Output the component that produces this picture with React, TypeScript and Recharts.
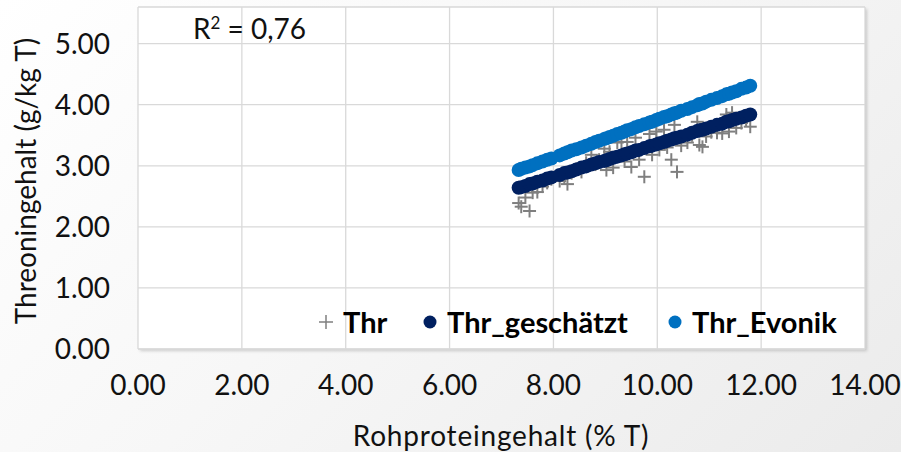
import { ScatterChart, Scatter, XAxis, YAxis, CartesianGrid } from 'recharts'

// Rohproteingehalt (% T) per sample
const protein = [
  7.33, 7.38, 7.46, 7.54, 7.6, 7.69, 7.79, 7.88, 7.96, 8.12,
  8.21, 8.27, 8.35, 8.44, 8.54, 8.63, 8.73, 8.81, 8.88, 8.98,
  9.02, 9.08, 9.15, 9.23, 9.31, 9.37, 9.42, 9.5, 9.58, 9.65,
  9.75, 9.85, 9.9, 9.98, 10.04, 10.13, 10.19, 10.27, 10.33, 10.38,
  10.46, 10.58, 10.67, 10.77, 10.81, 10.87, 10.94, 11.04, 11.15, 11.25,
  11.33, 11.38, 11.44, 11.52, 11.62, 11.71, 11.79,
]

// Threonin gemessen (g/kg T)
const thr = [
  2.39, 2.33, 2.48, 2.26, 2.56, 2.57, 2.66, 2.72, 2.78, 2.75,
  2.8, 2.7, 2.88, 2.95, 2.9, 3.05, 3.18, 3.02, 3.1, 3.28,
  2.93, 3.23, 2.97, 3.38, 3.39, 3.07, 3.39, 2.98, 3.46, 3.1,
  2.82, 3.52, 3.18, 3.56, 3.26, 3.59, 3.3, 3.1, 3.67, 2.9,
  3.33, 3.38, 3.5, 3.72, 3.34, 3.31, 3.48, 3.55, 3.54, 3.53,
  3.84, 3.56, 3.87, 3.62, 3.7, 3.75, 3.64,
]

const thrGeschaetzt = [
  2.64, 2.65, 2.67, 2.7, 2.71, 2.74, 2.76, 2.79, 2.81, 2.85,
  2.88, 2.89, 2.91, 2.94, 2.97, 2.99, 3.02, 3.04, 3.06, 3.08,
  3.09, 3.11, 3.13, 3.15, 3.17, 3.19, 3.2, 3.22, 3.25, 3.26,
  3.29, 3.32, 3.33, 3.35, 3.37, 3.39, 3.41, 3.43, 3.45, 3.46,
  3.48, 3.51, 3.54, 3.57, 3.58, 3.59, 3.61, 3.64, 3.67, 3.69,
  3.72, 3.73, 3.75, 3.77, 3.79, 3.82, 3.84,
]

const thrEvonik = [
  2.93, 2.95, 2.97, 2.99, 3.01, 3.04, 3.07, 3.1, 3.12, 3.17,
  3.2, 3.22, 3.25, 3.27, 3.3, 3.33, 3.36, 3.39, 3.41, 3.44,
  3.45, 3.47, 3.49, 3.52, 3.54, 3.56, 3.58, 3.6, 3.63, 3.65,
  3.68, 3.71, 3.72, 3.75, 3.77, 3.8, 3.81, 3.84, 3.86, 3.87,
  3.9, 3.93, 3.96, 3.99, 4.01, 4.02, 4.05, 4.08, 4.11, 4.14,
  4.17, 4.18, 4.2, 4.22, 4.26, 4.28, 4.31,
]

const xTicks = [0, 2, 4, 6, 8, 10, 12, 14]
const yTicks = [0, 1, 2, 3, 4, 5]

const GRAY = '#7f7f7f'
const NAVY = '#002060'
const BLUE = '#0070c0'
const FONT = 'Lato, "Open Sans", sans-serif'

const thrData = protein.map((x, i) => ({ x, y: thr[i] }))
const geschaetztData = protein.map((x, i) => ({ x, y: thrGeschaetzt[i] }))
const evonikData = protein.map((x, i) => ({ x, y: thrEvonik[i] }))

const PlusShape = (props: any) => {
  const { cx, cy } = props
  return (
    <g>
      <line x1={cx - 6.5} y1={cy} x2={cx + 6.5} y2={cy} stroke={GRAY} strokeWidth={2} />
      <line x1={cx} y1={cy - 6.5} x2={cx} y2={cy + 6.5} stroke={GRAY} strokeWidth={2} />
    </g>
  )
}

const dotShape = (color: string) => (props: any) => (
  <circle cx={props.cx} cy={props.cy} r={7} fill={color} />
)

// legend entries, with where each marker and label sits inside the plot
const legendItems = [
  { name: 'Thr', color: GRAY, plus: true, marker: 326, text: 343 },
  { name: 'Thr_geschätzt', color: NAVY, plus: false, marker: 430, text: 447 },
  { name: 'Thr_Evonik', color: BLUE, plus: false, marker: 675, text: 692 },
]

const LegendBox = () => (
  <>
    {legendItems.map((it) => (
      <div key={it.name}>
        <svg width={16} height={16} style={{ position: 'absolute', left: it.marker - 8, top: 314 }}>
          {it.plus ? (
            <g stroke={it.color} strokeWidth={1.5}>
              <line x1={1} y1={8} x2={15} y2={8} />
              <line x1={8} y1={1} x2={8} y2={15} />
            </g>
          ) : (
            <circle cx={8} cy={8} r={6.5} fill={it.color} />
          )}
        </svg>
        <span
          style={{
            position: 'absolute',
            left: it.text,
            top: 307,
            fontWeight: 700,
            fontSize: 29,
            lineHeight: 1,
            color: '#000',
            whiteSpace: 'nowrap',
          }}
        >
          {it.name}
        </span>
      </div>
    ))}
  </>
)

export default function App() {
  return (
    <div
      style={{
        position: 'absolute',
        left: 0,
        top: 0,
        width: 901,
        height: 452,
        background: 'linear-gradient(135deg, #ffffff 0%, #f7f7f7 45%, #ebebeb 100%)',
        fontFamily: FONT,
        overflow: 'hidden',
      }}
    >
      {/* soft shadow under the plot area */}
      <div
        style={{
          position: 'absolute',
          left: 138,
          top: 7,
          width: 727,
          height: 342,
          background: '#fff',
          boxShadow: '2px 2px 3px rgba(0,0,0,0.18)',
        }}
      />
      <ScatterChart width={901} height={452} margin={{ top: 7, right: 36, bottom: 0, left: 0 }}>
        <CartesianGrid stroke="#d9d9d9" strokeWidth={1.3} fill="#ffffff" />
        <XAxis
          type="number"
          dataKey="x"
          domain={[0, 14]}
          ticks={xTicks}
          tickFormatter={(v: number) => v.toFixed(2)}
          axisLine={{ stroke: '#d9d9d9' }}
          tickLine={false}
          tickSize={0}
          tickMargin={26}
          tick={{ fill: '#111', fontSize: 28, fontFamily: FONT }}
          height={103}
        />
        <YAxis
          type="number"
          dataKey="y"
          domain={[0, 5.6]}
          ticks={yTicks}
          tickFormatter={(v: number) => v.toFixed(2)}
          axisLine={false}
          tickLine={false}
          tickSize={0}
          tickMargin={28}
          tick={{ fill: '#111', fontSize: 28, fontFamily: FONT }}
          width={138}
        />
        <Scatter name="Thr" data={thrData} shape={<PlusShape />} isAnimationActive={false} />
        <Scatter name="Thr_geschätzt" data={geschaetztData} shape={dotShape(NAVY)} isAnimationActive={false} />
        <Scatter name="Thr_Evonik" data={evonikData} shape={dotShape(BLUE)} isAnimationActive={false} />
      </ScatterChart>

      <LegendBox />

      <div style={{ position: 'absolute', left: 193, top: 14, fontSize: 28, color: '#111', lineHeight: 1 }}>
        R<sup style={{ fontSize: 17, verticalAlign: 'top', lineHeight: 1 }}>2</sup> = 0,76
      </div>

      <div
        style={{
          position: 'absolute',
          left: 501,
          top: 421,
          transform: 'translateX(-50%)',
          fontSize: 28,
          letterSpacing: 0.8,
          color: '#111',
          whiteSpace: 'nowrap',
          lineHeight: 1,
        }}
      >
        Rohproteingehalt (% T)
      </div>

      <div
        style={{
          position: 'absolute',
          left: 25,
          top: 181,
          transform: 'translate(-50%, -50%) rotate(-90deg)',
          fontSize: 28,
          color: '#111',
          whiteSpace: 'nowrap',
          lineHeight: 1,
        }}
      >
        Threoningehalt (g/kg T)
      </div>
    </div>
  )
}
